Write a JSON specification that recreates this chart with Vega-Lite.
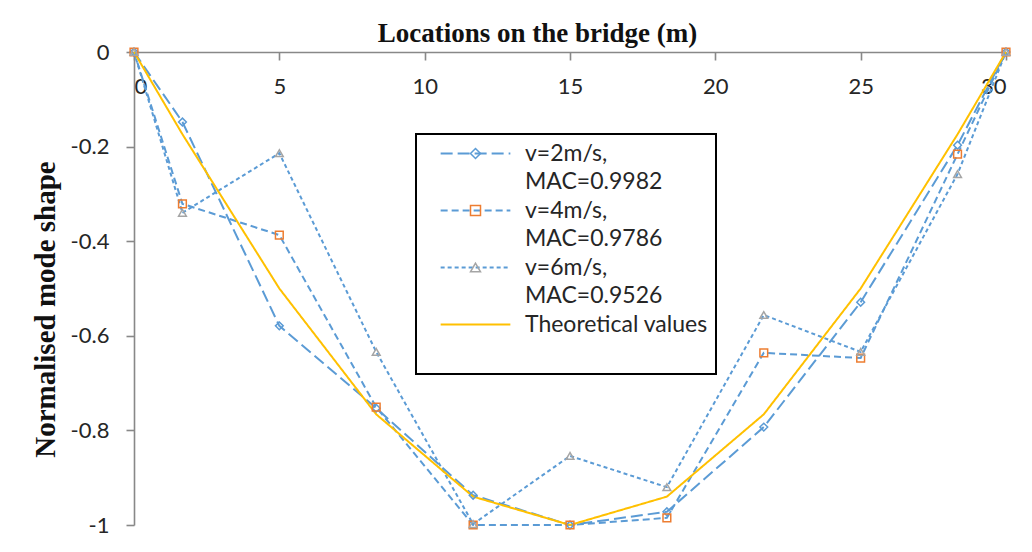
{
  "$schema": "https://vega.github.io/schema/vega-lite/v6.json",
  "width": 872,
  "height": 473,
  "autosize": {"type": "none"},
  "padding": {"left": 134, "top": 52, "right": 26, "bottom": 27},
  "background": "white",
  "config": {"view": {"stroke": null}, "legend": {"strokeWidth": 2}, "style": {"guide-label": {"lineHeight": 28}}},
  "data": {"values": [
    {"x": 0, "y": 0, "series": "v=2m/s,|MAC=0.9982"},
    {"x": 1.667, "y": -0.148, "series": "v=2m/s,|MAC=0.9982"},
    {"x": 5, "y": -0.579, "series": "v=2m/s,|MAC=0.9982"},
    {"x": 8.333, "y": -0.753, "series": "v=2m/s,|MAC=0.9982"},
    {"x": 11.667, "y": -0.937, "series": "v=2m/s,|MAC=0.9982"},
    {"x": 15, "y": -1.0, "series": "v=2m/s,|MAC=0.9982"},
    {"x": 18.333, "y": -0.972, "series": "v=2m/s,|MAC=0.9982"},
    {"x": 21.667, "y": -0.793, "series": "v=2m/s,|MAC=0.9982"},
    {"x": 25, "y": -0.529, "series": "v=2m/s,|MAC=0.9982"},
    {"x": 28.333, "y": -0.197, "series": "v=2m/s,|MAC=0.9982"},
    {"x": 30, "y": 0, "series": "v=2m/s,|MAC=0.9982"},
    {"x": 0, "y": 0, "series": "v=4m/s,|MAC=0.9786"},
    {"x": 1.667, "y": -0.321, "series": "v=4m/s,|MAC=0.9786"},
    {"x": 5, "y": -0.387, "series": "v=4m/s,|MAC=0.9786"},
    {"x": 8.333, "y": -0.751, "series": "v=4m/s,|MAC=0.9786"},
    {"x": 11.667, "y": -1.0, "series": "v=4m/s,|MAC=0.9786"},
    {"x": 15, "y": -1.0, "series": "v=4m/s,|MAC=0.9786"},
    {"x": 18.333, "y": -0.985, "series": "v=4m/s,|MAC=0.9786"},
    {"x": 21.667, "y": -0.636, "series": "v=4m/s,|MAC=0.9786"},
    {"x": 25, "y": -0.647, "series": "v=4m/s,|MAC=0.9786"},
    {"x": 28.333, "y": -0.216, "series": "v=4m/s,|MAC=0.9786"},
    {"x": 30, "y": 0, "series": "v=4m/s,|MAC=0.9786"},
    {"x": 0, "y": 0, "series": "v=6m/s,|MAC=0.9526"},
    {"x": 1.667, "y": -0.340, "series": "v=6m/s,|MAC=0.9526"},
    {"x": 5, "y": -0.214, "series": "v=6m/s,|MAC=0.9526"},
    {"x": 8.333, "y": -0.634, "series": "v=6m/s,|MAC=0.9526"},
    {"x": 11.667, "y": -0.998, "series": "v=6m/s,|MAC=0.9526"},
    {"x": 15, "y": -0.854, "series": "v=6m/s,|MAC=0.9526"},
    {"x": 18.333, "y": -0.920, "series": "v=6m/s,|MAC=0.9526"},
    {"x": 21.667, "y": -0.556, "series": "v=6m/s,|MAC=0.9526"},
    {"x": 25, "y": -0.634, "series": "v=6m/s,|MAC=0.9526"},
    {"x": 28.333, "y": -0.258, "series": "v=6m/s,|MAC=0.9526"},
    {"x": 30, "y": 0, "series": "v=6m/s,|MAC=0.9526"},
    {"x": 0, "y": 0, "series": "Theoretical values"},
    {"x": 1.667, "y": -0.174, "series": "Theoretical values"},
    {"x": 5, "y": -0.5, "series": "Theoretical values"},
    {"x": 8.333, "y": -0.766, "series": "Theoretical values"},
    {"x": 11.667, "y": -0.940, "series": "Theoretical values"},
    {"x": 15, "y": -1.0, "series": "Theoretical values"},
    {"x": 18.333, "y": -0.940, "series": "Theoretical values"},
    {"x": 21.667, "y": -0.766, "series": "Theoretical values"},
    {"x": 25, "y": -0.5, "series": "Theoretical values"},
    {"x": 28.333, "y": -0.174, "series": "Theoretical values"},
    {"x": 30, "y": 0, "series": "Theoretical values"}
  ]},
  "encoding": {
    "x": {"field": "x", "type": "quantitative",
      "scale": {"domain": [0, 30], "nice": false, "zero": false},
      "axis": {"orient": "bottom", "offset": -473, "values": [0, 5, 10, 15, 20, 25, 30], "grid": false,
        "domainColor": "#888888", "domainWidth": 1.6, "tickColor": "#888888", "tickWidth": 1.6, "tickSize": 8,
        "labelFont": "Lato", "labelFontSize": 22, "labelColor": "#262626", "labelPadding": 16,
        "title": "Locations on the bridge (m)", "titleFont": "Liberation Serif", "titleFontSize": 27, "titleFontWeight": "bold", "titleColor": "#111111",
        "titleX": 403, "titleY": -19, "titleBaseline": "middle", "titleAlign": "center"}},
    "y": {"field": "y", "type": "quantitative",
      "scale": {"domain": [-1, 0], "nice": false, "zero": false},
      "axis": {"values": [0, -0.2, -0.4, -0.6, -0.8, -1], "grid": false,
        "labelExpr": "datum.value == 0 ? '0' : (datum.value == -1 ? '-1' : '-' + format(abs(datum.value), '.1f'))",
        "domainColor": "#888888", "domainWidth": 1.6, "tickColor": "#888888", "tickWidth": 1.6, "tickSize": 8,
        "labelFont": "Lato", "labelFontSize": 22, "labelColor": "#262626", "labelPadding": 17,
        "title": "Normalised mode shape", "titleFont": "Liberation Serif", "titleFontSize": 29, "titleFontWeight": "bold", "titleColor": "#111111",
        "titleX": -89, "titleY": 257, "titleAngle": -90, "titleBaseline": "middle", "titleAlign": "center"}}
  },
  "layer": [
    {
      "mark": {"type": "line", "strokeWidth": 2},
      "encoding": {
        "color": {"field": "series", "type": "nominal",
          "scale": {"domain": ["v=2m/s,|MAC=0.9982", "v=4m/s,|MAC=0.9786", "v=6m/s,|MAC=0.9526", "Theoretical values"],
                    "range": ["#5B9BD5", "#5B9BD5", "#5B9BD5", "#FFC000"]},
          "legend": {"orient": "none", "legendX": 282, "legendY": 82, "title": " ", "titleOrient": "bottom", "titleFontSize": 8, "titlePadding": 21,
            "labelExpr": "datum.label == 'Theoretical values' ? 'Theoretical values ' : split(datum.label, '|')", "labelFont": "Lato", "labelFontSize": 23, "labelColor": "#262626", "labelLimit": 0,
            "symbolType": "M-9,0H9", "symbolSize": 60, "symbolStrokeWidth": 2, "symbolOffset": 40, "labelOffset": 38, "padding": 8, "rowPadding": 5, "strokeColor": "#000000"}},
        "strokeDash": {"field": "series", "type": "nominal",
          "scale": {"domain": ["v=2m/s,|MAC=0.9982", "v=4m/s,|MAC=0.9786", "v=6m/s,|MAC=0.9526", "Theoretical values"],
                    "range": [[12, 5], [7, 4], [4, 3], [1, 0]]},
          "legend": {"orient": "none", "legendX": 282, "legendY": 82, "title": " ", "titleOrient": "bottom", "titleFontSize": 8, "titlePadding": 21,
            "labelExpr": "datum.label == 'Theoretical values' ? 'Theoretical values ' : split(datum.label, '|')", "labelFont": "Lato", "labelFontSize": 23, "labelColor": "#262626", "labelLimit": 0,
            "symbolType": "M-9,0H9", "symbolSize": 60, "symbolStrokeWidth": 2, "symbolOffset": 40, "labelOffset": 38, "padding": 8, "rowPadding": 5, "strokeColor": "#000000"}}
      }
    },
    {
      "transform": [{"filter": "datum.series != 'Theoretical values'"}],
      "mark": {"type": "point", "filled": false, "size": 60, "strokeWidth": 1.5, "opacity": 1},
      "encoding": {
        "shape": {"field": "series", "type": "nominal",
          "scale": {"domain": ["v=2m/s,|MAC=0.9982", "v=4m/s,|MAC=0.9786", "v=6m/s,|MAC=0.9526", "Theoretical values", "zz"],
                    "range": ["diamond", "square", "triangle-up", "M0,0", "M0,0"]},
          "legend": {"orient": "none", "legendX": 282, "legendY": 82, "title": null,
            "values": ["v=2m/s,|MAC=0.9982", "v=4m/s,|MAC=0.9786", "v=6m/s,|MAC=0.9526", "Theoretical values"],
            "labelExpr": "datum.label == 'Theoretical values' ? ' ' : [' ', ' ']", "labelFont": "Lato", "labelFontSize": 23, "labelOpacity": 0, "labelLimit": 0,
            "symbolOffset": 40, "labelOffset": 38, "padding": 8, "rowPadding": 5}},
        "stroke": {"field": "series", "type": "nominal",
          "scale": {"domain": ["v=2m/s,|MAC=0.9982", "v=4m/s,|MAC=0.9786", "v=6m/s,|MAC=0.9526", "Theoretical values", "zz"],
                    "range": ["#5B9BD5", "#ED7D31", "#A5A5A5", "transparent", "transparent"]},
          "legend": {"orient": "none", "legendX": 282, "legendY": 82, "title": null,
            "values": ["v=2m/s,|MAC=0.9982", "v=4m/s,|MAC=0.9786", "v=6m/s,|MAC=0.9526", "Theoretical values"],
            "labelExpr": "datum.label == 'Theoretical values' ? ' ' : [' ', ' ']", "labelFont": "Lato", "labelFontSize": 23, "labelOpacity": 0, "labelLimit": 0,
            "symbolOffset": 40, "labelOffset": 38, "padding": 8, "rowPadding": 5}}
      }
    }
  ]
}
